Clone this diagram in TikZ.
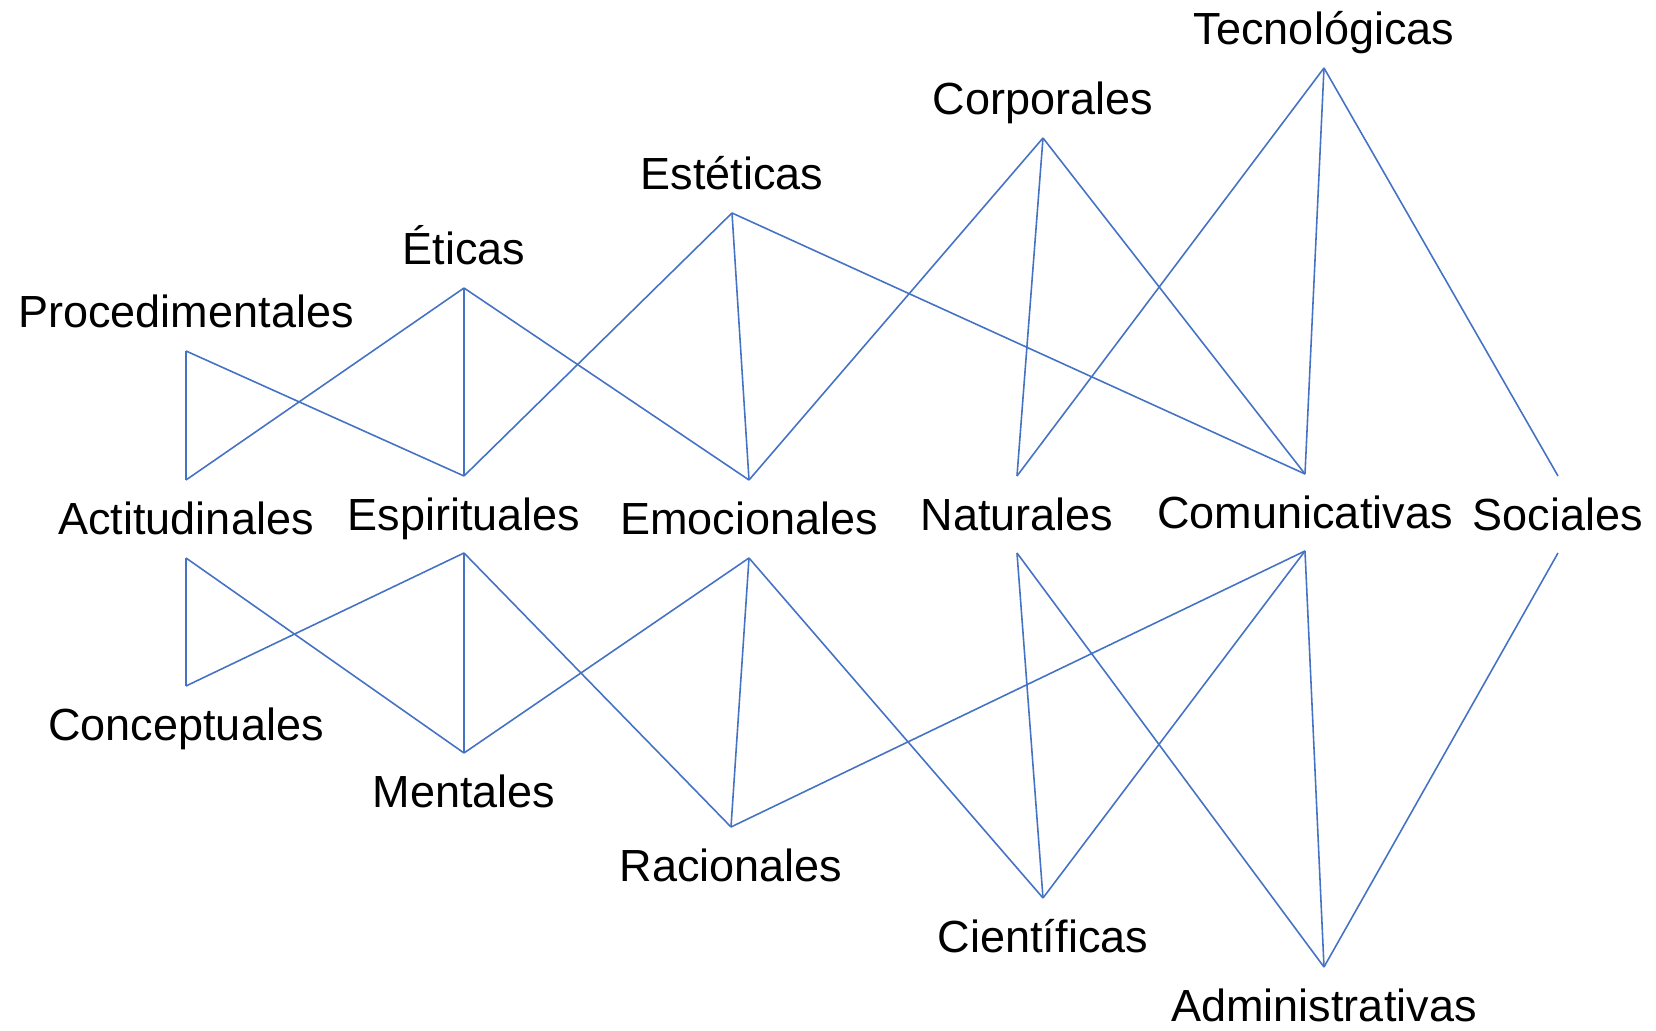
\documentclass[tikz,border=0pt]{standalone}
\usepackage{fontspec}
\setmainfont{Liberation Sans}
\usepackage{tikz}
\usetikzlibrary{positioning, calc}

\definecolor{linkblue}{RGB}{68,114,196}

\tikzset{
  lbl/.style={anchor=base, inner sep=0pt, font=\fontsize{12.8}{15}\selectfont},
  link/.style={draw=linkblue, line width=0.45pt}
}

\begin{document}
\begin{tikzpicture}[x=0.01cm, y=-0.01cm]
\useasboundingbox (0,0) rectangle (1656,1031);

% Top row
\coordinate (proc) at (186,351);
\coordinate (etic) at (464,288);
\coordinate (estet) at (732,213);
\coordinate (corp) at (1043,138);
\coordinate (tecno) at (1324,68);
\node[lbl] (proc-l) at (186,328) {Procedimentales};
\node[lbl] (etic-l) at (464,265) {Éticas};
\node[lbl] (estet-l) at (732,190) {Estéticas};
\node[lbl] (corp-l) at (1043,115) {Corporales};
\node[lbl] (tecno-l) at (1324,45) {Tecnológicas};

% Middle row (upper and lower ends)
\coordinate (act-t) at (186,480);   \coordinate (act-b) at (186,558);
\coordinate (espi-t) at (464,476);  \coordinate (espi-b) at (464,553);
\coordinate (emoc-t) at (749,480);  \coordinate (emoc-b) at (749,558);
\coordinate (natu-t) at (1017,476); \coordinate (natu-b) at (1017,553);
\coordinate (comu-t) at (1305,474); \coordinate (comu-b) at (1305,551);
\coordinate (soci-t) at (1558,476); \coordinate (soci-b) at (1558,553);
\node[lbl] (act-l) at (186,535) {Actitudinales};
\node[lbl] (espi-l) at (464,531) {Espirituales};
\node[lbl] (emoc-l) at (749,535) {Emocionales};
\node[lbl] (natu-l) at (1017,531) {Naturales};
\node[lbl] (comu-l) at (1305,529) {Comunicativas};
\node[lbl] (soci-l) at (1558,531) {Sociales};

% Bottom row
\coordinate (conc) at (186,686);
\coordinate (ment) at (464,753);
\coordinate (raci) at (731,827);
\coordinate (cien) at (1043,898);
\coordinate (admi) at (1324,967);
\node[lbl] (conc-l) at (186,741) {Conceptuales};
\node[lbl] (ment-l) at (464,808) {Mentales};
\node[lbl] (raci-l) at (731,882) {Racionales};
\node[lbl] (cien-l) at (1043,953) {Científicas};
\node[lbl] (admi-l) at (1324,1022) {Administrativas};

% Upper links
\draw[link] (proc) -- (act-t);
\draw[link] (proc) -- (espi-t);
\draw[link] (etic) -- (act-t);
\draw[link] (etic) -- (espi-t);
\draw[link] (etic) -- (emoc-t);
\draw[link] (estet) -- (espi-t);
\draw[link] (estet) -- (emoc-t);
\draw[link] (estet) -- (comu-t);
\draw[link] (corp) -- (emoc-t);
\draw[link] (corp) -- (natu-t);
\draw[link] (corp) -- (comu-t);
\draw[link] (tecno) -- (natu-t);
\draw[link] (tecno) -- (comu-t);
\draw[link] (tecno) -- (soci-t);

% Lower links
\draw[link] (conc) -- (act-b);
\draw[link] (conc) -- (espi-b);
\draw[link] (ment) -- (act-b);
\draw[link] (ment) -- (espi-b);
\draw[link] (ment) -- (emoc-b);
\draw[link] (raci) -- (espi-b);
\draw[link] (raci) -- (emoc-b);
\draw[link] (raci) -- (comu-b);
\draw[link] (cien) -- (emoc-b);
\draw[link] (cien) -- (natu-b);
\draw[link] (cien) -- (comu-b);
\draw[link] (admi) -- (natu-b);
\draw[link] (admi) -- (comu-b);
\draw[link] (admi) -- (soci-b);
\end{tikzpicture}
\end{document}
